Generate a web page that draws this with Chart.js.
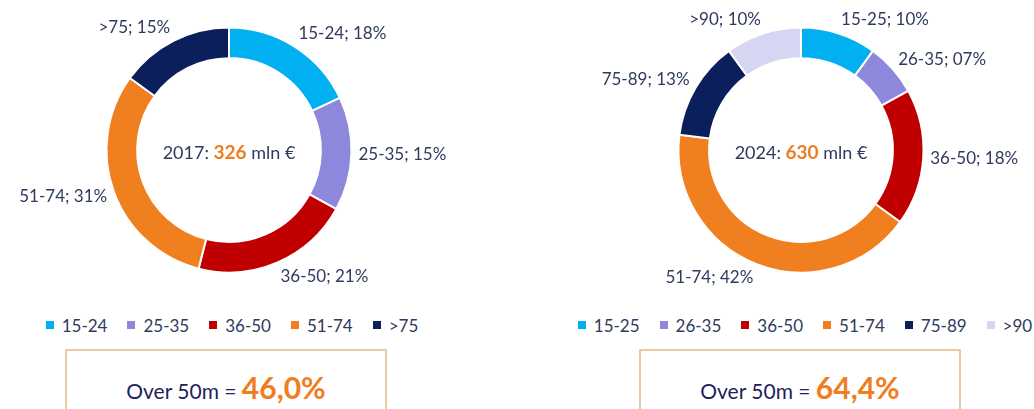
<!DOCTYPE html>
<html>
<head>
<meta charset="utf-8">
<script src="https://cdn.jsdelivr.net/npm/chart.js@4.4.1/dist/chart.umd.min.js"></script>
<style>
  body { margin: 0; background: #fff; width: 1034px; height: 409px; overflow: hidden; position: relative; font-family: Lato, sans-serif; }
  canvas { position: absolute; top: 0; }
  .legend { position: absolute; top: 315px; height: 20px; display: flex; align-items: center; justify-content: center; font-size: 17px; color: #2f3a5e; white-space: nowrap; }
  .legend span.item { display: flex; align-items: center; margin: 0 10px; }
  .legend i { display: inline-block; width: 8px; height: 8px; margin-right: 8px; }
  .note { position: absolute; top: 349px; width: 322px; height: 80px; border: 2px solid #ecc9a3; box-sizing: border-box; text-align: center; }
  .note div { position: absolute; left: 0; right: 0; top: 18px; color: #1e1f5c; font-size: 21px; }
  .note b { color: #ef7d22; font-size: 30px; font-weight: 700; }
</style>
</head>
<body>
<canvas id="chart2017" width="458" height="300" style="left:0px"></canvas>
<canvas id="chart2024" width="458" height="300" style="left:572px"></canvas>
<div class="legend" id="legend2017" style="left:0px;width:464px"></div>
<div class="legend" id="legend2024" style="left:560px;width:490px"></div>
<div class="note" style="left:65px"><div>Over 50m = <b id="over2017"></b></div></div>
<div class="note" style="left:639px"><div>Over 50m = <b id="over2024"></b></div></div>
<script>
const labels2017 = ['15-24', '25-35', '36-50', '51-74', '>75'];
const shares2017 = [18, 15, 21, 31, 15];
const labels2024 = ['15-25', '26-35', '36-50', '51-74', '75-89', '>90'];
const shares2024 = [10, 7, 18, 42, 13, 10];
const totals = [326, 630];
const years = ['2017', '2024'];
const over50 = [46.0, 64.4];

const colors = ['#00b0f0', '#8e88dc', '#c00000', '#f07f1f', '#0b1f5c', '#d6d6f2'];
const textColor = '#2f3a5e';
const fontFamily = 'Lato, sans-serif';

// slice labels drawn just outside the ring
const sliceLabels = {
    id: 'sliceLabels',
    afterDatasetsDraw(chart) {
        const ctx = chart.ctx;
        const meta = chart.getDatasetMeta(0);
        const values = chart.data.datasets[0].data;
        ctx.save();
        ctx.font = '17px ' + fontFamily;
        ctx.fillStyle = textColor;
        ctx.textBaseline = 'middle';
        meta.data.forEach((arc, i) => {
            const mid = (arc.startAngle + arc.endAngle) / 2;
            const r = arc.outerRadius + 7;
            const x = arc.x + Math.cos(mid) * r;
            const y = arc.y + Math.sin(mid) * r;
            const text = chart.data.labels[i] + '; ' + String(values[i]).padStart(2, '0') + '%';
            ctx.textAlign = Math.cos(mid) >= 0 ? 'left' : 'right';
            ctx.fillText(text, x, y + Math.sin(mid) * 8);
        });
        ctx.restore();
    }
};

// "2017: 326 mln €" in the hole
const centerText = {
    id: 'centerText',
    afterDraw(chart) {
        const opts = chart.options.plugins.centerText;
        const arc = chart.getDatasetMeta(0).data[0];
        const ctx = chart.ctx;
        const parts = [
            { t: opts.year + ': ', f: '18px ' + fontFamily, c: textColor },
            { t: String(opts.total), f: 'bold 19px ' + fontFamily, c: '#ef7d22' },
            { t: ' mln €', f: '18px ' + fontFamily, c: textColor }
        ];
        ctx.save();
        let w = 0;
        parts.forEach(p => { ctx.font = p.f; p.w = ctx.measureText(p.t).width; w += p.w; });
        let x = arc.x - w / 2;
        ctx.textBaseline = 'middle';
        ctx.textAlign = 'left';
        parts.forEach(p => {
            ctx.font = p.f;
            ctx.fillStyle = p.c;
            ctx.fillText(p.t, x, arc.y + 3);
            x += p.w;
        });
        ctx.restore();
    }
};

function makeDonut(id, labels, values, year, total) {
    return new Chart(document.getElementById(id).getContext('2d'), {
        type: 'doughnut',
        data: {
            labels: labels,
            datasets: [{
                data: values,
                backgroundColor: colors.slice(0, values.length),
                borderColor: '#ffffff',
                borderWidth: 2,
                hoverOffset: 0
            }]
        },
        options: {
            responsive: false,
            animation: false,
            cutout: '75%',
            layout: { padding: { top: 26.5, bottom: 26.5 } },
            plugins: {
                legend: { display: false },
                tooltip: { enabled: false },
                centerText: { year: year, total: total }
            }
        },
        plugins: [sliceLabels, centerText]
    });
}

function makeLegend(id, labels) {
    const el = document.getElementById(id);
    labels.forEach((label, i) => {
        const item = document.createElement('span');
        item.className = 'item';
        item.innerHTML = '<i style="background:' + colors[i] + '"></i>' + label;
        el.appendChild(item);
    });
}

makeDonut('chart2017', labels2017, shares2017, years[0], totals[0]);
makeDonut('chart2024', labels2024, shares2024, years[1], totals[1]);
makeLegend('legend2017', labels2017);
makeLegend('legend2024', labels2024);
document.getElementById('over2017').textContent = over50[0].toFixed(1).replace('.', ',') + '%';
document.getElementById('over2024').textContent = over50[1].toFixed(1).replace('.', ',') + '%';
</script>
</body>
</html>
